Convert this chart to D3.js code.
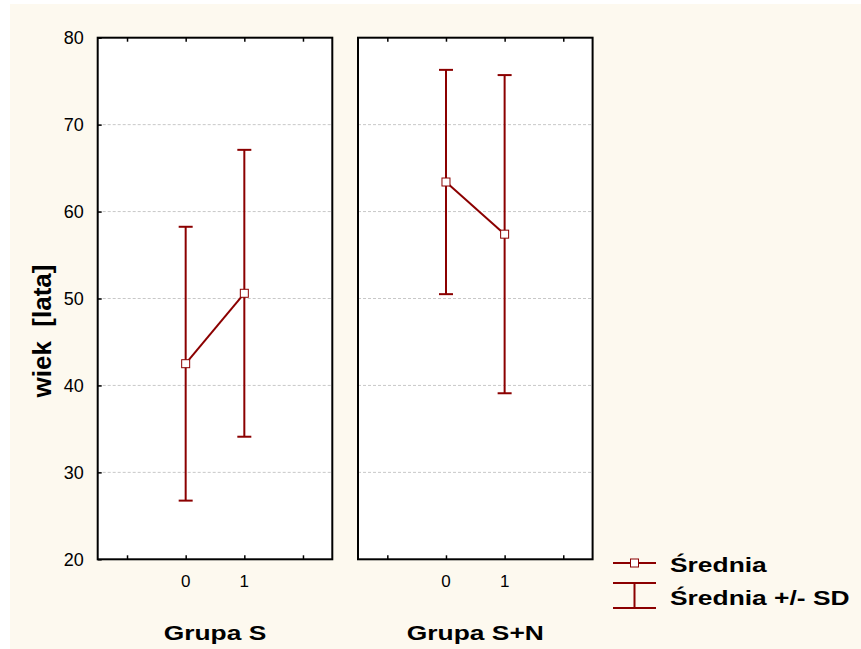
<!DOCTYPE html>
<html>
<head>
<meta charset="utf-8">
<script src="https://cdn.jsdelivr.net/npm/d3@7"></script>
<style>
  body { margin: 0; background: #ffffff; }
  text { font-family: "Liberation Sans", Arial, sans-serif; fill: #000; }
</style>
</head>
<body>
<div id="chart-area"></div>
<script>
// Data
var panels = ["Grupa S", "Grupa S+N"];
var groups = [0, 1];
var means = [[42.5, 50.6], [63.4, 57.4]];
var sds = [[15.75, 16.5], [12.9, 18.3]];
var yTicks = [20, 30, 40, 50, 60, 70, 80];
var gridTicks = [30, 40, 50, 60, 70];
var xTicks = [-1, 0, 1, 2];
var legendLabels = ["Średnia", "Średnia +/- SD"];

var W = 861, H = 649;
var plotTop = 37.7, plotBottom = 559.3;
var panelLeft = [97.7, 358], panelW = 234.6;
var red = "#8b0000";
var stretch = 1.32; // the original renders bold labels wide

var svg = d3.select("#chart-area")
    .append("svg")
    .attr("width", W)
    .attr("height", H);

// cream background
svg.append("rect")
    .attr("x", 10).attr("y", 4)
    .attr("width", W - 10).attr("height", H - 4)
    .attr("fill", "#fdf9ef");

var y = d3.scaleLinear().domain([20, 80]).range([plotBottom, plotTop]);
var x = d3.scaleLinear().domain([-1.5, 2.5]).range([0, panelW]);

function styleTicks(a) {
    a.select(".domain").remove();
    a.selectAll("line").attr("stroke", "#000").attr("stroke-width", 1.5);
}

panels.forEach(function(name, p) {
    var g = svg.append("g")
        .attr("transform", "translate(" + panelLeft[p] + ",0)");

    g.append("rect")
        .attr("x", 0).attr("y", plotTop)
        .attr("width", panelW).attr("height", plotBottom - plotTop)
        .attr("fill", "#fff");

    // grid lines
    g.selectAll(".grid").data(gridTicks).enter().append("line")
        .attr("x1", 0).attr("x2", panelW)
        .attr("y1", function(d) { return y(d); })
        .attr("y2", function(d) { return y(d); })
        .attr("stroke", "#c8c8c8")
        .attr("stroke-width", 1)
        .attr("stroke-dasharray", "3,2");

    // inward ticks top and bottom
    g.append("g")
        .attr("transform", "translate(0," + plotBottom + ")")
        .call(d3.axisBottom(x).tickValues(xTicks).tickSize(-4).tickFormat(""))
        .call(styleTicks);
    g.append("g")
        .attr("transform", "translate(0," + plotTop + ")")
        .call(d3.axisTop(x).tickValues(xTicks).tickSize(-4).tickFormat(""))
        .call(styleTicks);

    // x tick labels (0 and 1 only)
    g.selectAll(".xl").data(groups).enter().append("text")
        .attr("x", function(d) { return x(d); })
        .attr("y", plotBottom + 28)
        .attr("text-anchor", "middle")
        .attr("font-size", "17px")
        .text(function(d) { return d; });

    // mean line
    var line = d3.line()
        .x(function(d, i) { return x(groups[i]); })
        .y(function(d) { return y(d); });
    g.append("path")
        .datum(means[p])
        .attr("d", line)
        .attr("fill", "none")
        .attr("stroke", red)
        .attr("stroke-width", 2);

    // error bars
    groups.forEach(function(gr, i) {
        var m = means[p][i], s = sds[p][i];
        var cx = x(gr);
        g.append("line")
            .attr("x1", cx).attr("x2", cx)
            .attr("y1", y(m + s)).attr("y2", y(m - s))
            .attr("stroke", red).attr("stroke-width", 2);
        [m + s, m - s].forEach(function(v) {
            g.append("line")
                .attr("x1", cx - 7).attr("x2", cx + 7)
                .attr("y1", y(v)).attr("y2", y(v))
                .attr("stroke", red).attr("stroke-width", 2);
        });
        g.append("rect")
            .attr("x", cx - 4).attr("y", y(m) - 4)
            .attr("width", 8).attr("height", 8)
            .attr("fill", "#fff")
            .attr("stroke", red).attr("stroke-width", 1);
    });

    // frame
    g.append("rect")
        .attr("x", 0).attr("y", plotTop)
        .attr("width", panelW).attr("height", plotBottom - plotTop)
        .attr("fill", "none")
        .attr("stroke", "#000")
        .attr("stroke-width", 2);

    // panel title
    g.append("text")
        .attr("transform", "translate(" + (panelW / 2) + "," + (plotBottom + 81) + ") scale(" + stretch + ",1)")
        .attr("text-anchor", "middle")
        .attr("font-size", "20px")
        .attr("font-weight", "bold")
        .text(name);
});

// Y axis (left of first panel)
svg.append("g")
    .attr("transform", "translate(" + panelLeft[0] + ",0)")
    .call(d3.axisLeft(y).tickValues(yTicks).tickSize(-4).tickPadding(14))
    .call(styleTicks)
    .call(function(a) {
        a.selectAll("text")
            .attr("font-size", "18px")
            .attr("font-family", "'Liberation Sans', Arial, sans-serif")
            .attr("fill", "#000");
    });

// Y label
svg.append("text")
    .attr("transform", "translate(51,331) rotate(-90)")
    .attr("text-anchor", "middle")
    .attr("font-size", "26px")
    .attr("font-weight", "bold")
    .style("white-space", "pre")
    .text("wiek  [lata]");

// Legend
var lx = 613, lw = 43;
var leg = svg.append("g");
leg.append("line")
    .attr("x1", lx).attr("x2", lx + lw)
    .attr("y1", 563).attr("y2", 563)
    .attr("stroke", red).attr("stroke-width", 2);
leg.append("rect")
    .attr("x", lx + lw / 2 - 4).attr("y", 559)
    .attr("width", 8).attr("height", 8)
    .attr("fill", "#fff").attr("stroke", red).attr("stroke-width", 1);
[583, 608].forEach(function(yy) {
    leg.append("line")
        .attr("x1", lx).attr("x2", lx + lw)
        .attr("y1", yy).attr("y2", yy)
        .attr("stroke", red).attr("stroke-width", 2);
});
leg.append("line")
    .attr("x1", lx + lw / 2).attr("x2", lx + lw / 2)
    .attr("y1", 583).attr("y2", 608)
    .attr("stroke", red).attr("stroke-width", 2);
leg.selectAll(".lt").data(legendLabels).enter().append("text")
    .attr("transform", function(d, i) { return "translate(670," + (572 + i * 33) + ") scale(" + stretch + ",1)"; })
    .attr("font-size", "20px")
    .attr("font-weight", "bold")
    .text(function(d) { return d; });
</script>
</body>
</html>
